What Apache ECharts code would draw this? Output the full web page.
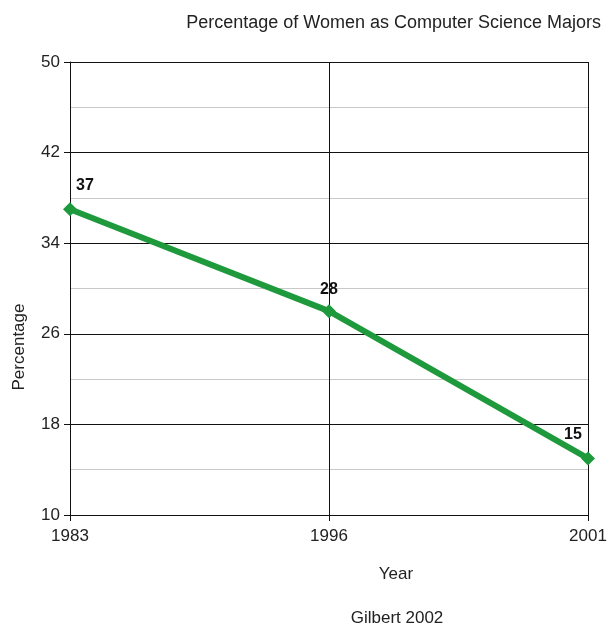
<!DOCTYPE html>
<html>
<head>
<meta charset="utf-8">
<script src="https://cdn.jsdelivr.net/npm/echarts@6/dist/echarts.min.js"></script>
<style>html,body{margin:0;padding:0;background:#fff}#c{width:610px;height:627px}</style>
</head>
<body>
<div id="c"></div>
<script>
var years = ['1983', '1996', '2001'];
var percentages = [37, 28, 15];
var yTicks = [10, 18, 26, 34, 42, 50];

var labelStyles = [
  { position: 'top', offset: [15, -4] },
  { position: 'top', offset: [0, -2] },
  { position: 'top', offset: [-15, -4] }
];

var FONT = 'Liberation Sans, Arial, sans-serif';
var chart = echarts.init(document.getElementById('c'));
chart.setOption({
  backgroundColor: '#fff',
  animation: false,
  title: {
    text: 'Percentage of Women as Computer Science Majors',
    right: 4, top: 9,
    textStyle: { fontFamily: FONT, fontSize: 18, fontWeight: 'normal', color: '#222' }
  },
  grid: { left: 70, right: 22, top: 62, bottom: 112, containLabel: false },
  xAxis: {
    type: 'category',
    data: years,
    boundaryGap: false,
    axisLine: { lineStyle: { color: '#111', width: 1 } },
    axisTick: { show: true, length: 6, lineStyle: { color: '#111' } },
    axisLabel: { color: '#222', fontFamily: FONT, fontSize: 17, margin: 13 },
    splitLine: { show: true, lineStyle: { color: '#111', width: 1 } }
  },
  yAxis: {
    type: 'value',
    min: yTicks[0], max: yTicks[yTicks.length - 1], interval: yTicks[1] - yTicks[0],
    axisLine: { show: true, lineStyle: { color: '#111', width: 1 } },
    axisTick: { show: true, length: 6, lineStyle: { color: '#111' } },
    axisLabel: { color: '#222', fontFamily: FONT, fontSize: 17, margin: 10 },
    splitLine: { show: true, lineStyle: { color: '#111', width: 1 } },
    minorTick: { show: false, splitNumber: 2 },
    minorSplitLine: { show: true, lineStyle: { color: '#c8c8c8', width: 1 } }
  },
  graphic: [
    { type: 'text', x: 19, y: 347, rotation: Math.PI / 2,
      style: { text: 'Percentage', fill: '#222', font: '17px ' + FONT, align: 'center', verticalAlign: 'middle' } },
    { type: 'text', x: 396, y: 574, style: { text: 'Year', fill: '#222', font: '17px ' + FONT, align: 'center', verticalAlign: 'middle' } },
    { type: 'text', x: 397, y: 618, style: { text: 'Gilbert 2002', fill: '#222', font: '17px ' + FONT, align: 'center', verticalAlign: 'middle' } }
  ],
  series: [{
    type: 'line',
    data: percentages.map(function (v, i) {
      return { value: v, label: labelStyles[i] };
    }),
    lineStyle: { color: '#1e9a3c', width: 6 },
    itemStyle: { color: '#1e9a3c' },
    symbol: 'diamond',
    symbolSize: 14,
    label: { show: true, color: '#111', fontFamily: FONT, fontSize: 16, fontWeight: 'bold' }
  }]
});
</script>
</body>
</html>
